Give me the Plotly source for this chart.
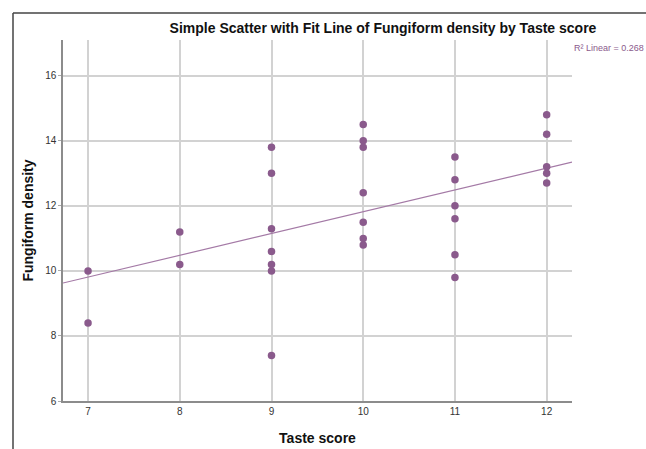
import numpy as np
import plotly.graph_objects as go

taste_score = [7, 7,
               8, 8,
               9, 9, 9, 9, 9, 9, 9,
               10, 10, 10, 10, 10, 10, 10,
               11, 11, 11, 11, 11, 11,
               12, 12, 12, 12, 12]
fungiform_density = [10.0, 8.4,
                     11.2, 10.2,
                     13.8, 13.0, 11.3, 10.6, 10.2, 10.0, 7.4,
                     14.5, 14.0, 13.8, 12.4, 11.5, 11.0, 10.8,
                     13.5, 12.8, 12.0, 11.6, 10.5, 9.8,
                     14.8, 14.2, 13.2, 13.0, 12.7]
x_ticks = [7, 8, 9, 10, 11, 12]
y_ticks = [6, 8, 10, 12, 14, 16]
# linear fit as shown in the chart (intercept, slope)
fit_intercept = 5.12
fit_slope = 0.67
r2_label = "R² Linear = 0.268"

X_RANGE = [6.727, 12.276]
Y_RANGE = [6.0, 17.1]

fit_x = np.array(X_RANGE)
fit_y = fit_intercept + fit_slope * fit_x

PURPLE = "#8a5a8c"
FONT = "Liberation Sans, Arial, sans-serif"

fig = go.Figure()
fig.add_trace(go.Scatter(x=fit_x, y=fit_y, mode="lines",
                         line=dict(color="#a47aa6", width=1.2),
                         hoverinfo="skip", showlegend=False, cliponaxis=True))
fig.add_trace(go.Scatter(x=taste_score, y=fungiform_density, mode="markers",
                         marker=dict(color=PURPLE, size=7.5, line=dict(width=0)),
                         showlegend=False))

L, R, T, B = 63, 74, 40, 48
W, H = 646, 449
pw, ph = W - L - R, H - T - B

def px_x(p):
    return (p - L) / pw

def px_y(p):
    return (H - B - p) / ph

fig.update_layout(
    width=W, height=H,
    margin=dict(l=L, r=R, t=T, b=B, pad=0, autoexpand=False),
    paper_bgcolor="white", plot_bgcolor="white",
    font=dict(family=FONT, color="#333333"),
    title=dict(text="<b>Simple Scatter with Fit Line of Fungiform density by Taste score</b>",
               x=383 / W, xanchor="center", y=1 - 28 / H, yanchor="middle",
               font=dict(size=14, color="#111111", family=FONT)),
    xaxis=dict(range=X_RANGE, tickvals=x_ticks, ticktext=[str(v) for v in x_ticks],
               showgrid=True, gridcolor="#d2d2d2", gridwidth=1.5,
               showline=True, linecolor="#8c8c8c", linewidth=1.5,
               ticks="", zeroline=False, automargin=False,
               tickfont=dict(size=10, color="#333333"),
               title=dict(text="<b>Taste score</b>", font=dict(size=14, color="#111111"),
                          standoff=17)),
    yaxis=dict(range=Y_RANGE, tickvals=y_ticks, ticktext=[str(v) for v in y_ticks],
               showgrid=True, gridcolor="#d2d2d2", gridwidth=1.5,
               showline=True, linecolor="#8c8c8c", linewidth=1.5,
               ticks="outside", ticklen=3, tickcolor="#aaaaaa", zeroline=False,
               automargin=False,
               tickfont=dict(size=10, color="#333333"),
               title=dict(text="<b>Fungiform density</b>", font=dict(size=14, color="#111111"),
                          standoff=8)),
)

fig.add_annotation(text=r2_label, xref="paper", yref="paper",
                   x=px_x(572), y=px_y(48), xanchor="left", yanchor="middle",
                   showarrow=False, font=dict(size=9, color="#8a5a8c", family=FONT))

# outer frame lines (top and left)
fig.add_shape(type="line", xref="paper", yref="paper",
              x0=px_x(13), x1=px_x(660), y0=px_y(13), y1=px_y(13),
              line=dict(color="#444444", width=1.5))
fig.add_shape(type="line", xref="paper", yref="paper",
              x0=px_x(13), x1=px_x(13), y0=px_y(13), y1=px_y(460),
              line=dict(color="#444444", width=1.5))

fig.write_html("out.html", config={"displayModeBar": False},
               post_script="document.body.style.margin='0px';document.body.style.overflow='hidden';")
